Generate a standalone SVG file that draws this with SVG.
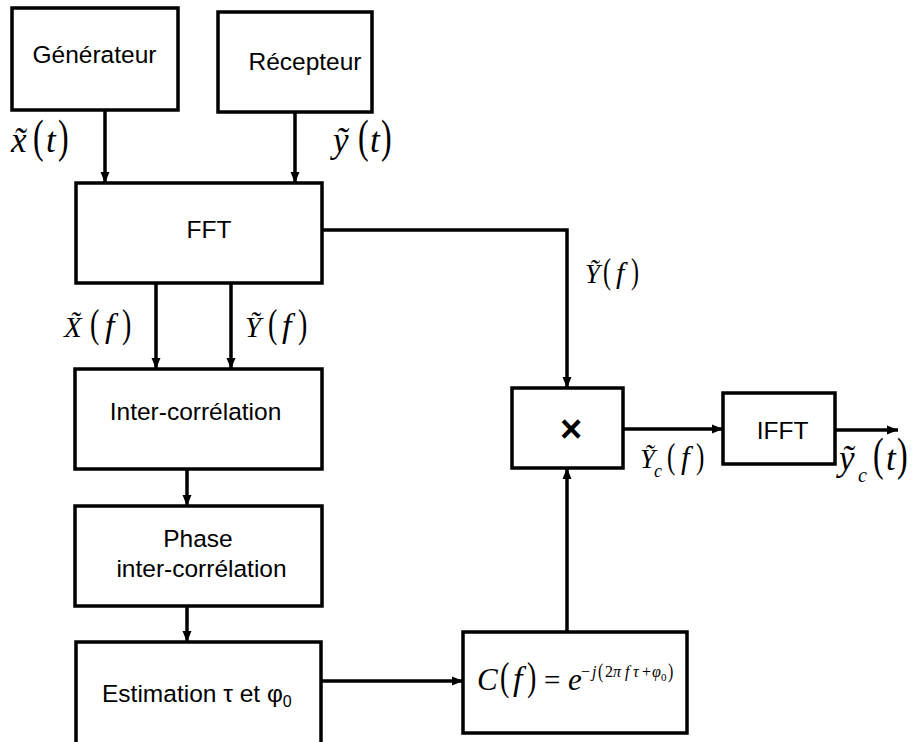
<svg xmlns="http://www.w3.org/2000/svg" width="914" height="742" viewBox="0 0 914 742">
  <style>
    .box { fill: #ffffff; stroke: #000000; stroke-width: 3.5; }
    .wire { fill: none; stroke: #000000; stroke-width: 3.5; }
    .lbl { font-family: "Liberation Sans", Arial, sans-serif; font-size: 24.5px; fill: #000000; }
    .mid { text-anchor: middle; }
    .times { font-size: 38px; font-weight: bold; }
    .m { font-family: "Liberation Serif", "Times New Roman", serif; fill: #000000; }
    .it { font-style: italic; }
  </style>
  <defs>
    <marker id="arrow" markerUnits="userSpaceOnUse" markerWidth="11" markerHeight="10" refX="11" refY="5" orient="auto">
      <path d="M0,0.5 L11,5 L0,9.5 z" fill="#000000"/>
    </marker>
  </defs>

  <rect width="914" height="742" fill="#ffffff"/>

  <!-- connectors -->
  <g id="connectors">
    <line class="wire" x1="105" y1="110" x2="105" y2="183" marker-end="url(#arrow)"/>
    <line class="wire" x1="295" y1="112" x2="295" y2="183" marker-end="url(#arrow)"/>
    <polyline class="wire" points="322,230 567,230 567,388" marker-end="url(#arrow)"/>
    <line class="wire" x1="156" y1="283" x2="156" y2="369" marker-end="url(#arrow)"/>
    <line class="wire" x1="231" y1="283" x2="231" y2="369" marker-end="url(#arrow)"/>
    <line class="wire" x1="187" y1="469" x2="187" y2="506" marker-end="url(#arrow)"/>
    <line class="wire" x1="187" y1="606" x2="187" y2="642" marker-end="url(#arrow)"/>
    <line class="wire" x1="321" y1="681" x2="463" y2="681" marker-end="url(#arrow)"/>
    <line class="wire" x1="567" y1="632" x2="567" y2="468" marker-end="url(#arrow)"/>
    <line class="wire" x1="623" y1="429" x2="723" y2="429" marker-end="url(#arrow)"/>
    <line class="wire" x1="835" y1="430" x2="898" y2="430" marker-end="url(#arrow)"/>
  </g>

  <!-- signal labels (tall fences are scaled vertically) -->
  <g id="labels">
    <!-- x~(t) -->
    <text class="m it" x="11" y="152" font-size="35">x&#x303;</text>
    <text class="m" transform="translate(33,152) scale(1,1.45)" font-size="32">(</text>
    <text class="m it" x="46" y="152" font-size="35">t</text>
    <text class="m" transform="translate(58,152) scale(1,1.45)" font-size="32">)</text>

    <!-- y~(t) -->
    <text class="m it" x="333" y="152" font-size="35">ỹ</text>
    <text class="m" transform="translate(358,152) scale(1,1.45)" font-size="32">(</text>
    <text class="m it" x="370" y="152" font-size="35">t</text>
    <text class="m" transform="translate(381,152) scale(1,1.45)" font-size="32">)</text>

    <!-- X~(f) -->
    <text class="m it" x="64" y="337" font-size="29">X&#x303;</text>
    <text class="m" transform="translate(90,337) scale(1,1.45)" font-size="28">(</text>
    <text class="m it" x="105" y="337" font-size="34">f</text>
    <text class="m" transform="translate(122,337) scale(1,1.45)" font-size="28">)</text>

    <!-- Y~(f), left -->
    <text class="m it" x="245" y="337" font-size="29">Ỹ</text>
    <text class="m" transform="translate(268,337) scale(1,1.45)" font-size="28">(</text>
    <text class="m it" x="282" y="337" font-size="34">f</text>
    <text class="m" transform="translate(298,337) scale(1,1.45)" font-size="28">)</text>

    <!-- Y~(f), right -->
    <text class="m it" x="585" y="283" font-size="27">Ỹ</text>
    <text class="m" transform="translate(603,283) scale(1,1.45)" font-size="24">(</text>
    <text class="m it" x="616" y="283" font-size="30">f</text>
    <text class="m" transform="translate(631,283) scale(1,1.45)" font-size="24">)</text>

    <!-- Y~c(f) -->
    <text class="m it" x="640" y="468" font-size="27">Ỹ</text>
    <text class="m it" x="654" y="477" font-size="18">c</text>
    <text class="m" transform="translate(667,468) scale(1,1.45)" font-size="25">(</text>
    <text class="m it" x="681" y="468" font-size="31">f</text>
    <text class="m" transform="translate(696,468) scale(1,1.45)" font-size="25">)</text>

    <!-- y~c(t) -->
    <text class="m it" x="839" y="470" font-size="35">ỹ</text>
    <text class="m it" x="858" y="482" font-size="20">c</text>
    <text class="m" transform="translate(873,470) scale(1,1.45)" font-size="32">(</text>
    <text class="m it" x="886" y="470" font-size="35">t</text>
    <text class="m" transform="translate(897,470) scale(1,1.45)" font-size="32">)</text>
  </g>

  <!-- blocks -->
  <g id="generateur">
    <rect class="box" x="12" y="8" width="166" height="102"/>
    <text class="lbl mid" x="94.5" y="63">Générateur</text>
  </g>
  <g id="recepteur">
    <rect class="box" x="218" y="12" width="154" height="100"/>
    <text class="lbl mid" x="305" y="70">Récepteur</text>
  </g>
  <g id="fft">
    <rect class="box" x="76" y="183" width="246" height="100"/>
    <text class="lbl mid" x="209" y="238">FFT</text>
  </g>
  <g id="intercorrelation">
    <rect class="box" x="75" y="369" width="247" height="100"/>
    <text class="lbl mid" x="195.5" y="420">Inter-corrélation</text>
  </g>
  <g id="phase">
    <rect class="box" x="75" y="506" width="247" height="100"/>
    <text class="lbl mid" x="198" y="547">Phase</text>
    <text class="lbl mid" x="201.5" y="577">inter-corrélation</text>
  </g>
  <g id="estimation">
    <rect class="box" x="76" y="642" width="245" height="104"/>
    <text class="lbl" x="102" y="702">Estimation τ et φ<tspan font-size="16" dy="5">0</tspan></text>
  </g>
  <g id="correction">
    <rect class="box" x="463" y="632" width="224" height="101"/>
    <text class="m it" x="477" y="690" font-size="31">C</text>
    <text class="m" transform="translate(500,690) scale(1,1.45)" font-size="28">(</text>
    <text class="m it" x="513" y="690" font-size="34">f</text>
    <text class="m" transform="translate(527,690) scale(1,1.45)" font-size="28">)</text>
    <text class="m" x="544" y="690" font-size="29">=</text>
    <text class="m it" x="568" y="690" font-size="31">e</text>
    <text class="m" x="581" y="677" font-size="16">−</text>
    <text class="m it" x="592" y="677" font-size="16">j</text>
    <text class="m" transform="translate(598,678) scale(1,1.3)" font-size="16">(</text>
    <text class="m" x="605" y="677" font-size="16">2</text>
    <text class="m it" x="613" y="677" font-size="16">π</text>
    <text class="m it" x="625" y="677" font-size="16">f</text>
    <text class="m it" x="633" y="677" font-size="16">τ</text>
    <text class="m" x="642" y="677" font-size="16">+</text>
    <text class="m it" x="652" y="677" font-size="16">φ</text>
    <text class="m" x="661" y="681" font-size="11">0</text>
    <text class="m" transform="translate(668,678) scale(1,1.3)" font-size="16">)</text>
  </g>
  <g id="multiplier">
    <rect class="box" x="512" y="388" width="111" height="80"/>
    <text class="lbl mid times" x="571" y="442">×</text>
  </g>
  <g id="ifft">
    <rect class="box" x="723" y="393" width="112" height="71"/>
    <text class="lbl mid" x="782.5" y="439">IFFT</text>
  </g>
</svg>
